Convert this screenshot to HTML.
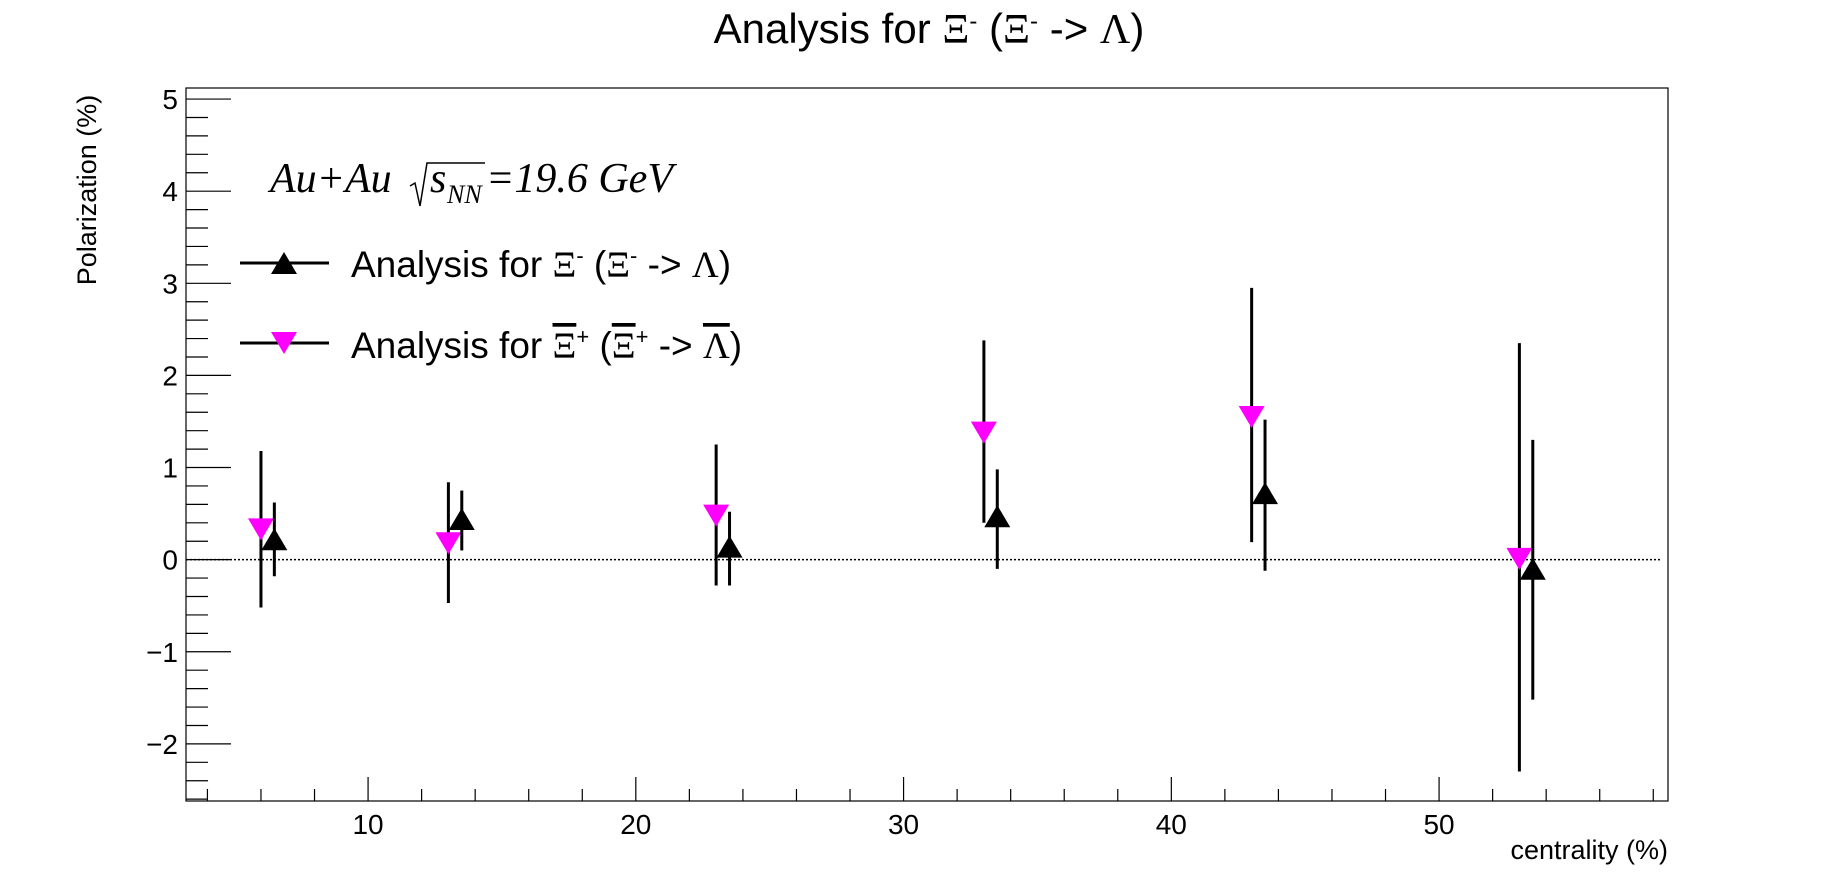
<!DOCTYPE html>
<html><head><meta charset="utf-8"><style>
body{margin:0;background:#fff}
svg{display:block;font-family:"Liberation Sans",sans-serif}
</style></head><body>
<svg id="c" width="1846" height="887" viewBox="0 0 1846 887">
<text x="929" y="43" font-size="42" text-anchor="middle">Analysis for <tspan font-family="Liberation Serif">Ξ</tspan><tspan font-size="24" dy="-14">-</tspan><tspan dy="14"> (</tspan><tspan font-family="Liberation Serif">Ξ</tspan><tspan font-size="24" dy="-14">-</tspan><tspan dy="14"> -&gt; </tspan><tspan font-family="Liberation Serif">Λ</tspan>)</text>
<rect x="186" y="88" width="1482" height="713" fill="none" stroke="#000" stroke-width="1.2"/>
<g id="axes"></g>
<g id="marks"></g>
<g font-family="Liberation Serif" font-style="italic">
<text x="270" y="192" font-size="42">Au+Au</text>
<path d="M410,186 L415,183 L420,206 L427,163 L485,163" fill="none" stroke="#000" stroke-width="1.5"/>
<text x="430" y="192" font-size="42">s</text>
<text x="447" y="203" font-size="26">NN</text>
<text x="486" y="192" font-size="42">=19.6 GeV</text>
</g>
<g>
<line x1="240" y1="263" x2="329" y2="263" stroke="#000" stroke-width="3"/>
<polygon points="284,252 297,274 271,274" fill="#000"/>
<text x="351" y="277" font-size="37">Analysis for <tspan font-family="Liberation Serif">Ξ</tspan><tspan font-size="22" dy="-14">-</tspan><tspan dy="14"> (</tspan><tspan font-family="Liberation Serif">Ξ</tspan><tspan font-size="22" dy="-14">-</tspan><tspan dy="14"> -&gt; </tspan><tspan font-family="Liberation Serif">Λ</tspan>)</text>
<line x1="240" y1="343" x2="329" y2="343" stroke="#000" stroke-width="3"/>
<polygon points="271,332 297,332 284,354" fill="#ff00ff"/>
<text x="351" y="358" font-size="37">Analysis for <tspan font-family="Liberation Serif" text-decoration="overline">Ξ</tspan><tspan font-size="22" dy="-14">+</tspan><tspan dy="14"> (</tspan><tspan font-family="Liberation Serif" text-decoration="overline">Ξ</tspan><tspan font-size="22" dy="-14">+</tspan><tspan dy="14"> -&gt; </tspan><tspan font-family="Liberation Serif" text-decoration="overline">Λ</tspan>)</text>
</g>
<text x="1668" y="859" font-size="27" text-anchor="end">centrality (%)</text>
<text transform="translate(96,190) rotate(-90)" font-size="27" text-anchor="middle">Polarization (%)</text>
</svg>
<script>
const xiMinusX=[6.5,13.5,23.5,33.5,43.5,53.5];
const xiMinusY=[0.2,0.42,0.12,0.45,0.7,-0.12];
const xiMinusLo=[-0.18,0.1,-0.28,-0.1,-0.12,-1.52];
const xiMinusHi=[0.62,0.75,0.52,0.98,1.52,1.3];
const xiPlusX=[6,13,23,33,43,53];
const xiPlusY=[0.35,0.2,0.5,1.4,1.57,0.03];
const xiPlusLo=[-0.52,-0.47,-0.28,0.4,0.19,-2.3];
const xiPlusHi=[1.18,0.84,1.25,2.38,2.95,2.35];
const xTicks=[10,20,30,40,50];
const yTicks=[-2,-1,0,1,2,3,4,5];
const X0=186,X1=1668,Y0=801,Y1=88,xmin=3.2,xmax=58.55,ymin=-2.62,ymax=5.12;
const sx=v=>X0+(v-xmin)/(xmax-xmin)*(X1-X0);
const sy=v=>Y0-(v-ymin)/(ymax-ymin)*(Y0-Y1);
const NS="http://www.w3.org/2000/svg";
function mk(t,a,p){const e=document.createElementNS(NS,t);for(const k in a)e.setAttribute(k,a[k]);p.appendChild(e);return e;}
const ax=document.getElementById('axes'),mg=document.getElementById('marks');
for(let v=4;v<=58;v+=2){const x=sx(v);const maj=v%10===0;
 const t=mk('line',{x1:x,x2:x,y1:Y0,y2:Y0-(maj?24:12),stroke:'#000','stroke-width':1.2},ax);
 
 }
xTicks.forEach(v=>{const t=mk('text',{x:sx(v),y:834,'font-size':28,'text-anchor':'middle'},ax);t.textContent=v;
 
 });
for(let i=-13;i<=25;i++){const v=i*0.2;if(v<ymin||v>ymax)continue;const y=sy(v);const maj=i%5===0;
 const t=mk('line',{x1:X0,x2:X0+(maj?45:22),y1:y,y2:y,stroke:'#000','stroke-width':1.2},ax);
 
 }
yTicks.forEach(v=>{const t=mk('text',{x:178,y:sy(v)+10,'font-size':28,'text-anchor':'end'},ax);t.textContent=v<0?'\u2212'+(-v):v;
 
 });
const zl=mk('line',{x1:X0,x2:1660,y1:sy(0),y2:sy(0),stroke:'#000','stroke-width':1.5,'stroke-dasharray':'2,2'},ax);


function series(xs,ys,lo,hi,color,up,name){
 xs.forEach((xv,i)=>{const x=sx(xv),y=sy(ys[i]);
  const e=mk('line',{x1:x,x2:x,y1:sy(lo[i]),y2:sy(hi[i]),stroke:'#000','stroke-width':3},mg);
  
  
  const p=up?`${x},${y-13} ${x+13},${y+9} ${x-13},${y+9}`:`${x-13},${y-9} ${x+13},${y-9} ${x},${y+13}`;
  const m=mk('polygon',{points:p,fill:color},mg);
  
  });
}
series(xiPlusX,xiPlusY,xiPlusLo,xiPlusHi,'#ff00ff',false,'xi-plus');
series(xiMinusX,xiMinusY,xiMinusLo,xiMinusHi,'#000',true,'xi-minus');
</script>
</body></html>
